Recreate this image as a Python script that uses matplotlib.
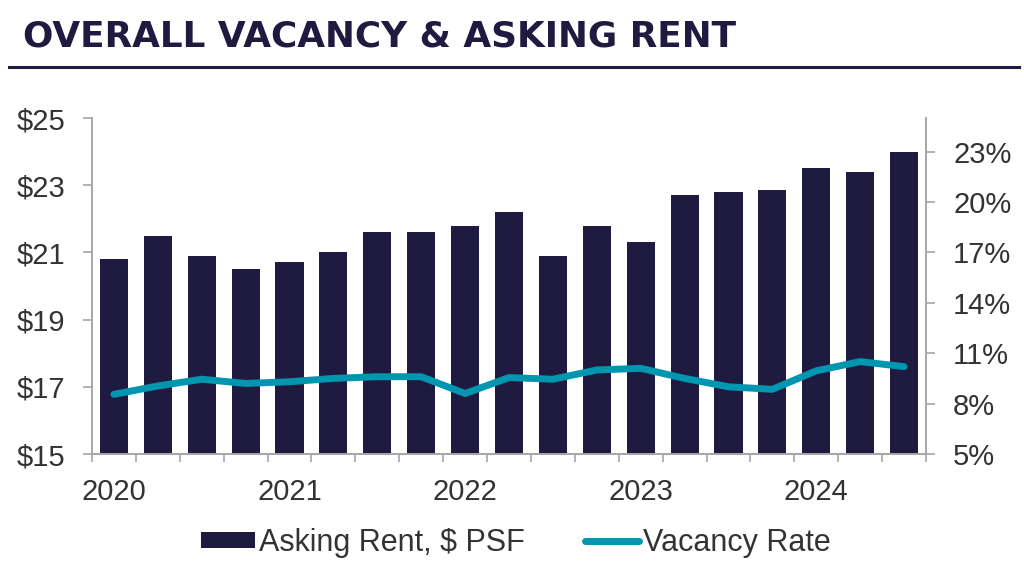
import numpy as np
import matplotlib
matplotlib.use("Agg")
import matplotlib.pyplot as plt
from matplotlib.lines import Line2D
from matplotlib.ticker import FuncFormatter

# quarterly data, 2020 Q1 - 2024 Q3
quarters = ["2020 Q1", "2020 Q2", "2020 Q3", "2020 Q4",
            "2021 Q1", "2021 Q2", "2021 Q3", "2021 Q4",
            "2022 Q1", "2022 Q2", "2022 Q3", "2022 Q4",
            "2023 Q1", "2023 Q2", "2023 Q3", "2023 Q4",
            "2024 Q1", "2024 Q2", "2024 Q3"]
asking_rent = [20.8, 21.5, 20.9, 20.5, 20.7, 21.0, 21.6, 21.6, 21.8, 22.2,
               20.9, 21.8, 21.3, 22.7, 22.8, 22.85, 23.5, 23.4, 24.0]
vacancy = [8.55, 9.05, 9.45, 9.2, 9.3, 9.5, 9.6, 9.6, 8.6, 9.55,
           9.45, 10.0, 10.1, 9.5, 9.0, 8.85, 9.95, 10.5, 10.2]
year_labels = ["2020", "2021", "2022", "2023", "2024"]
rent_ticks = [15, 17, 19, 21, 23, 25]
vac_ticks = [5, 8, 11, 14, 17, 20, 23]

navy = "#1f1a40"
teal = "#0096b0"
grey = "#a6a6a6"
txt = "#333333"

plt.rcParams['font.family'] = ['Liberation Sans', 'DejaVu Sans']

fig = plt.figure(figsize=(10.24, 5.68), dpi=100)
ax = fig.add_axes([92 / 1024, 1 - 454 / 568, (926 - 92) / 1024, (454 - 118) / 568])
x = np.arange(len(quarters))

bars = ax.bar(x, asking_rent, width=0.64, color=navy, zorder=2,
              label="Asking Rent, $ PSF")
ax.set_ylim(15, 25)
ax.set_xlim(-0.5, len(quarters) - 0.5)
ax.set_yticks(rent_ticks)
ax.yaxis.set_major_formatter(FuncFormatter(lambda v, p: "${:.0f}".format(v)))

ax2 = ax.twinx()
line, = ax2.plot(x, vacancy, color=teal, lw=5, solid_capstyle="round",
                 solid_joinstyle="round", zorder=3, label="Vacancy Rate")
ax2.set_ylim(5, 25)
ax2.set_yticks(vac_ticks)
ax2.yaxis.set_major_formatter(FuncFormatter(lambda v, p: "{:.0f}%".format(v)))

for a in (ax, ax2):
    a.spines["top"].set_visible(False)
    for s in ("left", "right", "bottom"):
        a.spines[s].set_color(grey)
        a.spines[s].set_linewidth(1.2)
    a.tick_params(axis="y", colors=grey, labelcolor=txt, labelsize=21,
                  length=6.5, width=1.2, pad=13)

ax.set_xticks(x[::4])
ax.set_xticklabels(year_labels)
ax.set_xticks(np.arange(-0.5, len(quarters)), minor=True)
ax.tick_params(axis="x", which="major", length=0, labelsize=21,
               labelcolor=txt, pad=17)
ax.tick_params(axis="x", which="minor", length=6, width=1.2, color=grey)

# title and rule
fig.text(23 / 1024, 1 - 46.5 / 568, "OVERALL VACANCY & ASKING RENT",
         fontsize=25.8, fontweight="bold", color=navy, va="baseline",
         family=["DejaVu Sans"])
fig.add_artist(Line2D([9 / 1024, 1019 / 1024], [1 - 67 / 568, 1 - 67 / 568],
                      color=navy, lw=2.2, transform=fig.transFigure))

fig.legend([bars, line], ["Asking Rent, $ PSF", "Vacancy Rate"],
           loc="center", bbox_to_anchor=(516 / 1024, 1 - 543 / 568), ncol=2,
           frameon=False, fontsize=22, handlelength=1.76, handleheight=0.45,
           handletextpad=0.15, columnspacing=1.95, labelcolor=txt)

fig.savefig("out.png", dpi=100)
